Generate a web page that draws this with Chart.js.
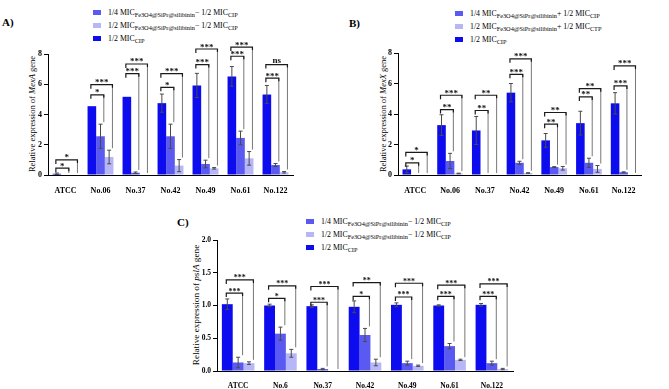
<!DOCTYPE html>
<html><head><meta charset="utf-8">
<script src="https://cdn.jsdelivr.net/npm/chart.js@4"></script>
<style>
body{margin:0;width:669px;height:389px;background:#fff;position:relative;overflow:hidden;font-family:"Liberation Serif",serif;}
canvas{position:absolute;}
.lab{position:absolute;font-weight:bold;font-size:11px;color:#000;}
.ytitle{position:absolute;transform:translate(-50%,-50%) rotate(-90deg);white-space:nowrap;font-size:8.5px;color:#000;}
.leg{position:absolute;font-size:7.8px;line-height:11px;color:#000;white-space:nowrap;}
.leg .sw{display:inline-block;width:8px;height:5px;margin-right:7px;vertical-align:0px;}
.leg sub{font-size:6.3px;vertical-align:-2px;}
</style></head><body>
<div class="lab" style="left:2px;top:16px">A)</div>
<div class="lab" style="left:349px;top:17px">B)</div>
<div class="lab" style="left:177px;top:216px">C)</div>

<div class="leg" style="left:93px;top:7px">
<div><span class="sw" style="background:#5a5af2"></span>1/4 MIC<sub>Fe3O4@SiPr@silibinin</sub>− 1/2 MIC<sub>CIP</sub></div>
<div><span class="sw" style="background:#b6b6f8"></span>1/2 MIC<sub>Fe3O4@SiPr@silibinin</sub>− 1/2 MIC<sub>CIP</sub></div>
<div><span class="sw" style="background:#0c0cee"></span>1/2 MIC<sub>CIP</sub></div>
</div>
<div class="leg" style="left:455px;top:8px">
<div><span class="sw" style="background:#5a5af2"></span>1/4 MIC<sub>Fe3O4@SiPr@silibinin</sub>+ 1/2 MIC<sub>CIP</sub></div>
<div><span class="sw" style="background:#b6b6f8"></span>1/2 MIC<sub>Fe3O4@SiPr@silibinin</sub>+ 1/2 MIC<sub>CTP</sub></div>
<div><span class="sw" style="background:#0c0cee"></span>1/2 MIC<sub>CIP</sub></div>
</div>
<div class="leg" style="left:306px;top:216px">
<div><span class="sw" style="background:#5a5af2"></span>1/4 MIC<sub>Fe3O4@SiPr@silibinin</sub>− 1/2 MIC<sub>CIP</sub></div>
<div><span class="sw" style="background:#b6b6f8"></span>1/2 MIC<sub>Fe3O4@SiPr@silibinin</sub>− 1/2 MIC<sub>CIP</sub></div>
<div><span class="sw" style="background:#0c0cee"></span>1/2 MIC<sub>CIP</sub></div>
</div>

<div class="ytitle" style="left:32px;top:114px">Relative expression of <i>MexA</i> gene</div>
<div class="ytitle" style="left:383px;top:114px">Relative expression of <i>MexX</i> gene</div>
<div class="ytitle" style="left:196px;top:305px;font-size:9.2px">Relative expression of <i>pslA</i> gene</div>

<canvas id="cA" width="300" height="195" style="left:0;top:0"></canvas>
<canvas id="cB" width="300" height="195" style="left:350px;top:0"></canvas>
<canvas id="cC" width="350" height="199" style="left:169px;top:190px"></canvas>

<script>
// ---------- Data ----------
const categoriesA = ["ATCC","No.06","No.37","No.42","No.49","No.61","No.122"];
const cipA      = [0.08, 4.55, 5.17, 4.75, 5.92, 6.52, 5.32];
const quarterA  = [0.0, 2.56, 0.15, 2.56, 0.73, 2.45, 0.66];
const halfA     = [0.0, 1.19, 0.0, 0.62, 0.44, 1.10, 0.18];
const cipErrA     = [0.05, 0.0, 0.0, 0.60, 0.80, 0.65, 0.60];
const quarterErrA = [0.0, 0.80, 0.05, 0.80, 0.25, 0.45, 0.10];
const halfErrA    = [0.0, 0.45, 0.0, 0.40, 0.05, 0.45, 0.05];
const sigInnerA = ["*","*","***","*","***","***","***"];
const sigOuterA = ["*","***","***","***","***","***","ns"];
const hInnerA = [0.45, 5.3, 6.7, 5.8, 7.3, 7.85, 6.4];
const hOuterA = [1.0, 5.97, 7.34, 6.7, 8.33, 8.46, 7.3];

const categoriesB = ["ATCC","No.06","No.37","No.42","No.49","No.61","No.122"];
const cipB      = [0.37, 3.27, 2.92, 5.40, 2.27, 3.40, 4.70];
const quarterB  = [0.0, 0.92, 0.0, 0.80, 0.52, 0.80, 0.18];
const halfB     = [0.0, 0.10, 0.0, 0.13, 0.44, 0.40, 0.0];
const cipErrB     = [0.22, 0.68, 0.92, 0.60, 0.45, 0.78, 0.70];
const quarterErrB = [0.0, 0.50, 0.0, 0.10, 0.03, 0.30, 0.03];
const halfErrB    = [0.0, 0.02, 0.0, 0.02, 0.12, 0.22, 0.0];
const sigInnerB = ["*","**","**","***","**","**","***"];
const sigOuterB = ["*","***","**","***","**","**","***"];
const hInnerB = [0.8, 4.29, 4.23, 6.6, 3.33, 5.12, 5.84];
const hOuterB = [1.48, 5.23, 5.23, 7.62, 4.1, 5.66, 7.15];

const categoriesC = ["ATCC","No.6","No.37","No.42","No.49","No.61","No.122"];
const cipC      = [1.02, 1.00, 0.99, 0.98, 1.01, 1.00, 1.01];
const quarterC  = [0.13, 0.57, 0.03, 0.55, 0.12, 0.38, 0.12];
const halfC     = [0.12, 0.27, 0.0, 0.13, 0.08, 0.17, 0.03];
const cipErrC     = [0.08, 0.02, 0.02, 0.09, 0.03, 0.01, 0.02];
const quarterErrC = [0.08, 0.10, 0.01, 0.10, 0.03, 0.04, 0.03];
const halfErrC    = [0.02, 0.06, 0.0, 0.05, 0.01, 0.01, 0.01];
const sigInnerC = ["***","*","***","*","***","***","***"];
const sigOuterC = ["***","***","***","**","***","***","***"];
const hInnerC = [1.19, 1.11, 1.05, 1.14, 1.13, 1.14, 1.14];
const hOuterC = [1.39, 1.30, 1.29, 1.35, 1.34, 1.31, 1.33];

const COLORS = ["#0c0cee", "#5a5af2", "#b6b6f8"];

// ---------- Plugin: error bars + significance brackets ----------
const annotPlugin = {
  id: 'annot',
  afterDatasetsDraw(chart, args, o) {
    const ctx = chart.ctx, y = chart.scales.y;
    const metas = [0,1,2].map(i => chart.getDatasetMeta(i));
    const vals = [0,1,2].map(i => chart.data.datasets[i].data);
    ctx.save();
    // error bars
    ctx.strokeStyle = '#4a4a4a'; ctx.lineWidth = 1;
    metas.forEach((m, di) => {
      m.data.forEach((bar, i) => {
        const v = vals[di][i], e = o.errs[di][i];
        if (!e) return;
        const yt = y.getPixelForValue(v + e), yb = y.getPixelForValue(Math.max(0, v - e));
        ctx.beginPath();
        ctx.moveTo(bar.x, yt); ctx.lineTo(bar.x, yb);
        ctx.moveTo(bar.x - 2, yt); ctx.lineTo(bar.x + 2, yt);
        ctx.moveTo(bar.x - 2, yb); ctx.lineTo(bar.x + 2, yb);
        ctx.stroke();
      });
    });
    // brackets
    const topOf = (di, i) => y.getPixelForValue(vals[di][i] + (o.errs[di][i] || 0)) - 2;
    const bracket = (i, target, h, label) => {
      const tb = metas[target].data[i];
      const x0 = metas[0].data[i].x - 1, x1 = tb.x + tb.width / 2 - 1;
      const yh = y.getPixelForValue(h);
      ctx.strokeStyle = '#777'; ctx.lineWidth = 1;
      ctx.beginPath();
      ctx.moveTo(x1, yh); ctx.lineTo(x1, Math.max(yh, topOf(target, i)));
      ctx.stroke();
      ctx.strokeStyle = '#1a1a1a'; ctx.lineWidth = 1.2;
      ctx.beginPath();
      ctx.moveTo(x0, yh + 4); ctx.lineTo(x0, yh); ctx.lineTo(x1, yh); ctx.lineTo(x1, yh + 3);
      ctx.stroke();
      ctx.fillStyle = '#111';
      ctx.font = o.starFont;
      ctx.textAlign = 'center'; ctx.textBaseline = 'alphabetic';
      const isNs = label === 'ns';
      ctx.fillText(label, (x0 + x1) / 2, yh + (isNs ? -2 : 0.5));
    };
    for (let i = 0; i < o.inner.length; i++) {
      bracket(i, 1, o.hInner[i], o.inner[i]);
      bracket(i, 2, o.hOuter[i], o.outer[i]);
    }
    ctx.restore();
  }
};

function makePanel(id, cats, series, errs, inner, outer, hInner, hOuter, opt) {
  new Chart(document.getElementById(id), {
    type: 'bar',
    data: {
      labels: cats,
      datasets: series.map((d, k) => ({
        data: d, backgroundColor: COLORS[k], borderWidth: 0,
        categoryPercentage: opt.catPct, barPercentage: 1.0
      }))
    },
    options: {
      responsive: false, animation: false,
      layout: { padding: { top: opt.padTop, right: opt.padRight, left: 0, bottom: 0 } },
      plugins: {
        legend: { display: false }, tooltip: { enabled: false },
        annot: { errs, inner, outer, hInner, hOuter, starFont: opt.starFont }
      },
      scales: {
        x: {
          grid: { display: false },
          border: { display: true, color: '#000', width: 1 },
          ticks: { color: '#000', font: { family: 'Liberation Serif', weight: 'bold', size: opt.xFont }, padding: opt.xPad, maxRotation: 0 },
          afterFit(s) { s.height = opt.xH; }
        },
        y: {
          min: 0, max: opt.max,
          grid: { display: true, drawOnChartArea: false, drawTicks: true, tickLength: 4, color: '#000' },
          border: { display: true, color: '#000', width: 1 },
          ticks: { stepSize: opt.step, color: '#000', padding: 2,
                   font: { family: 'Liberation Serif', weight: 'bold', size: opt.yFont },
                   callback: v => opt.step < 1 ? v.toFixed(1) : String(v) },
          afterFit(s) { s.width = opt.yW; }
        }
      }
    },
    plugins: [annotPlugin]
  });
}

makePanel('cA', categoriesA, [cipA, quarterA, halfA], [cipErrA, quarterErrA, halfErrA],
  sigInnerA, sigOuterA, hInnerA, hOuterA,
  { catPct: 0.74, padTop: 54, padRight: 7, xH: 20, yW: 48, max: 8, step: 2, xFont: 8, yFont: 8, xPad: 3, starFont: 'bold 9px "Liberation Serif"' });
makePanel('cB', categoriesB, [cipB, quarterB, halfB], [cipErrB, quarterErrB, halfErrB],
  sigInnerB, sigOuterB, hInnerB, hOuterB,
  { catPct: 0.74, padTop: 53, padRight: 9, xH: 20, yW: 48, max: 8, step: 2, xFont: 8, yFont: 8, xPad: 3, starFont: 'bold 9px "Liberation Serif"' });
makePanel('cC', categoriesC, [cipC, quarterC, halfC], [cipErrC, quarterErrC, halfErrC],
  sigInnerC, sigOuterC, hInnerC, hOuterC,
  { catPct: 0.77, padTop: 50, padRight: 6, xH: 18, yW: 48, max: 2, step: 0.5, xFont: 7.5, yFont: 7.5, xPad: 3, starFont: 'bold 8px "Liberation Serif"' });
</script>
</body></html>
